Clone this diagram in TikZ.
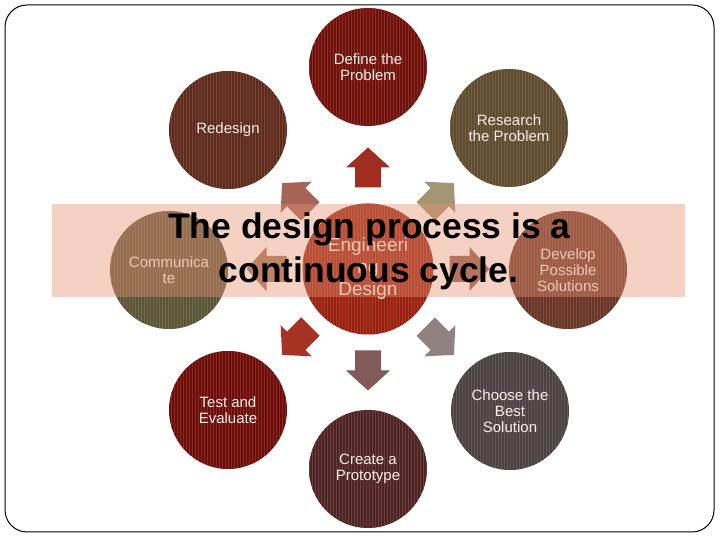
\documentclass[tikz,border=0pt]{standalone}
\usepackage{fontspec}
\setmainfont{Liberation Sans}
\usetikzlibrary{patterns}
\definecolor{cDefine}{RGB}{112,16,10}
\definecolor{cResearch}{RGB}{95,75,45}
\definecolor{cDevelop}{RGB}{105,52,38}
\definecolor{cChoose}{RGB}{75,65,65}
\definecolor{cCreate}{RGB}{80,35,35}
\definecolor{cTest}{RGB}{110,12,8}
\definecolor{cComm}{RGB}{91,85,55}
\definecolor{cRedesign}{RGB}{95,42,28}
\definecolor{cCenter}{RGB}{152,32,12}
\definecolor{aUp}{RGB}{160,45,32}
\definecolor{aUR}{RGB}{165,150,115}
\definecolor{aR}{RGB}{150,95,80}
\definecolor{aDR}{RGB}{145,130,130}
\definecolor{aD}{RGB}{130,90,90}
\definecolor{aDL}{RGB}{165,50,35}
\definecolor{aL}{RGB}{160,120,90}
\definecolor{aUL}{RGB}{165,100,85}
\definecolor{bandc}{RGB}{232,145,115}
\definecolor{txt}{RGB}{248,238,232}
\tikzset{
  ball/.style={circle, inner sep=0pt, minimum size=118pt, text=txt, align=center,
    font=\fontsize{15}{16}\selectfont, fill=#1,
    postaction={pattern=vertical lines, pattern color=#1!87!white}},
  barrow/.pic={\fill[#1] (-20,-13) -- (0,-13) -- (0,-22) -- (20,0) -- (0,22) -- (0,13) -- (-20,13) -- cycle;},
  titletext/.style={anchor=base, font=\fontsize{35.5}{40}\selectfont\bfseries, text=black, inner sep=0pt}
}
\begin{document}
\begin{tikzpicture}[x=1pt,y=1pt]
\useasboundingbox (0,0) rectangle (720,540);
\coordinate (ctr) at (368,271);
% circles
\node[ball=cDefine] (define) at (368,473) {Define the\\Problem};
\node[ball=cResearch] (research) at (509,412) {Research\\the Problem};
\node[ball=cDevelop] (develop) at (568,270) {Develop\\Possible\\Solutions};
\node[ball=cChoose] (choose) at (510,129) {Choose the\\Best\\Solution};
\node[ball=cCreate] (create) at (368,71) {Create a\\Prototype};
\node[ball=cTest] (test) at (228,130) {Test and\\Evaluate};
\node[ball=cComm] (comm) at (169,270) {Communica\\te};
\node[ball=cRedesign] (redesign) at (228,410) {Redesign};
\node[ball=cCenter, minimum size=131pt, font=\fontsize{19}{22}\selectfont] (eng) at (ctr) {Engineeri\\ng\\Design};
% block arrows
\foreach \ang/\col in {90/aUp, 45/aUR, 0/aR, -45/aDR, -90/aD, -135/aDL, 180/aL, 135/aUL}
  \pic[rotate=\ang] at ([shift={(\ang:101.5)}]ctr) {barrow=\col};
% translucent band
\fill[bandc, opacity=0.42] (52,243) rectangle (685,336);
% title
\node[titletext] (t1) at (369.5,301) {The design process is a};
\node[titletext] (t2) at (368.5,257) {continuous cycle.};
% frame
\draw[line width=1pt, rounded corners=22pt] (5,8) rectangle (714,535);
\end{tikzpicture}
\end{document}
